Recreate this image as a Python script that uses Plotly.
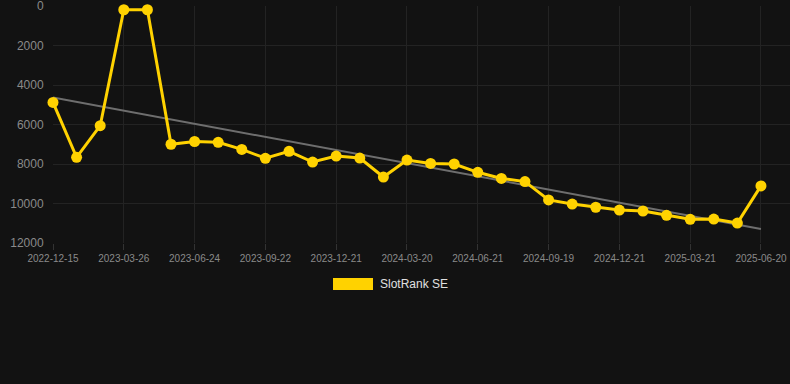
import numpy as np
import plotly.graph_objects as go

dates = [
    "2022-12-15", "2023-01-18", "2023-02-21", "2023-03-26", "2023-04-25", "2023-05-25",
    "2023-06-24", "2023-07-24", "2023-08-23", "2023-09-22", "2023-10-22", "2023-11-21",
    "2023-12-21", "2024-01-20", "2024-02-19", "2024-03-20", "2024-04-21", "2024-05-21",
    "2024-06-21", "2024-07-21", "2024-08-20", "2024-09-19", "2024-10-20", "2024-11-20",
    "2024-12-21", "2025-01-20", "2025-02-19", "2025-03-21", "2025-04-20", "2025-05-20",
    "2025-06-20",
]
ranks = [
    4880, 7660, 6060, 190, 190, 7000,
    6860, 6900, 7260, 7710, 7360, 7900,
    7600, 7700, 8660, 7800, 7970, 8000,
    8420, 8730, 8890, 9820, 10030, 10190,
    10330, 10380, 10600, 10800, 10790, 10990,
    9110,
]
tick_labels = dates[::3]
y_ticks = [0, 2000, 4000, 6000, 8000, 10000, 12000]
y_tick_text = [str(v) for v in y_ticks]
series_name = "SlotRank SE"

BG = "#121212"
YELLOW = "#FFD200"
GRID = "#232323"
TICK = "#8a8a8a"

idx = np.arange(len(ranks))
slope, intercept = np.polyfit(idx, ranks, 1)
trend = slope * idx + intercept

fig = go.Figure()
fig.add_trace(go.Scatter(
    x=[dates[0], dates[-1]], y=[trend[0], trend[-1]],
    mode="lines", line=dict(color="#6e6e6e", width=2),
    showlegend=False, hoverinfo="skip", cliponaxis=False,
))
fig.add_trace(go.Scatter(
    x=dates, y=ranks, mode="lines+markers", name=series_name,
    line=dict(color=YELLOW, width=3),
    marker=dict(color=YELLOW, size=11),
    showlegend=False, cliponaxis=False,
))

# legend (drawn manually to match box style)
fig.add_shape(type="rect", xref="paper", yref="paper",
              x0=(333 - 53) / 737, x1=(373 - 53) / 737,
              y0=(384 - 141 - 290) / 237, y1=(384 - 141 - 278) / 237,
              fillcolor=YELLOW, line=dict(width=0))
fig.add_annotation(xref="paper", yref="paper",
                   x=(378 - 53) / 737, y=(384 - 141 - 284) / 237,
                   text=series_name, showarrow=False, xanchor="left", yanchor="middle",
                   font=dict(family="Arial, Liberation Sans, sans-serif", size=12, color="#e0e0e0"))

fig.update_layout(
    width=790, height=384,
    margin=dict(l=53, r=0, t=6, b=141),
    paper_bgcolor=BG, plot_bgcolor=BG,
    font=dict(family="Arial, Liberation Sans, sans-serif", color=TICK),
    xaxis=dict(
        type="category", categoryorder="array", categoryarray=dates,
        range=[0, 31.23],
        tickmode="array", tickvals=tick_labels, ticktext=tick_labels,
        tickfont=dict(size=10, color=TICK),
        showgrid=True, gridcolor=GRID, gridwidth=1,
        ticks="outside", ticklen=6, tickcolor="#333333",
        zeroline=False, showline=False, ticklabeloverflow="allow",
    ),
    yaxis=dict(
        range=[12000, 0],
        tickmode="array", tickvals=y_ticks, ticktext=y_tick_text,
        tickfont=dict(size=12, color=TICK),
        showgrid=True, gridcolor=GRID, gridwidth=1,
        ticks="outside", ticklen=6, tickcolor=BG,
        zeroline=False, showline=False, ticklabeloverflow="allow",
    ),
    showlegend=False,
)

fig.write_html(
    "out.html",
    config={"displayModeBar": False},
    post_script="document.body.style.margin='0';document.body.style.background='#121212';",
)
